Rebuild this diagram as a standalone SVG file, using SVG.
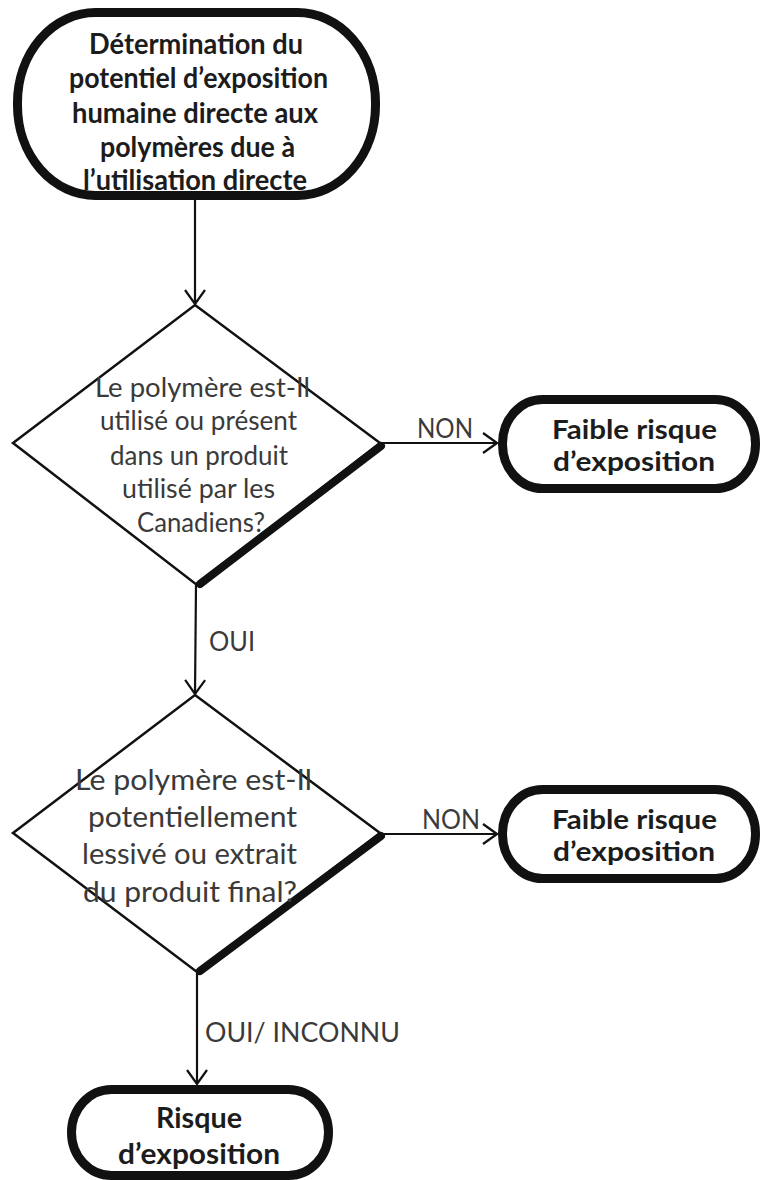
<svg xmlns="http://www.w3.org/2000/svg" width="761" height="1180" viewBox="0 0 761 1180">
  <style>
    .term { fill: #ffffff; stroke: #111111; stroke-width: 9; }
    .dec { fill: #ffffff; stroke: #111111; stroke-width: 2.5; stroke-linejoin: miter; }
    .shadow { fill: none; stroke: #111111; stroke-width: 8; stroke-linecap: round; }
    .conn { fill: none; stroke: #111111; stroke-width: 2.2; }
    .bold { font-family: Lato, "Open Sans", "Liberation Sans", sans-serif; font-weight: bold; fill: #1c1c1c; text-anchor: middle; }
    .reg { font-family: Lato, "Open Sans", "Liberation Sans", sans-serif; fill: #3a3a3a; text-anchor: middle; }
    .lbl { font-family: Lato, "Open Sans", "Liberation Sans", sans-serif; fill: #3a3a3a; font-size: 27px; }
  </style>
  <defs>
    <marker id="open-arrow" viewBox="0 0 16 22" refX="15" refY="11" markerWidth="16" markerHeight="22" markerUnits="userSpaceOnUse" orient="auto">
      <path d="M1,1 L15,11 L1,21" fill="none" stroke="#111111" stroke-width="2.2"/>
    </marker>
  </defs>

  <!-- connectors -->
  <g id="connectors">
    <line class="conn" x1="195" y1="200" x2="195" y2="304" marker-end="url(#open-arrow)"/>
    <line class="conn" x1="380" y1="443" x2="497" y2="443" marker-end="url(#open-arrow)"/>
    <line class="conn" x1="196" y1="585" x2="195" y2="694" marker-end="url(#open-arrow)"/>
    <line class="conn" x1="380" y1="834" x2="497" y2="834" marker-end="url(#open-arrow)"/>
    <line class="conn" x1="197" y1="972" x2="197" y2="1084" marker-end="url(#open-arrow)"/>
    <text class="lbl" x="417" y="438" textLength="56" lengthAdjust="spacingAndGlyphs">NON</text>
    <text class="lbl" x="209" y="651" textLength="46" lengthAdjust="spacingAndGlyphs">OUI</text>
    <text class="lbl" x="422" y="829" textLength="58" lengthAdjust="spacingAndGlyphs">NON</text>
    <text class="lbl" x="205" y="1042" textLength="195" lengthAdjust="spacingAndGlyphs">OUI/ INCONNU</text>
  </g>

  <!-- start: determination -->
  <g id="start">
    <rect class="term" x="17.5" y="12.5" width="358" height="183" rx="78" ry="90"/>
    <g class="bold" font-size="29">
      <text x="196" y="54" textLength="214" lengthAdjust="spacingAndGlyphs">Détermination du</text>
      <text x="198.5" y="88" textLength="259" lengthAdjust="spacingAndGlyphs">potentiel d’exposition</text>
      <text x="195" y="123" textLength="246" lengthAdjust="spacingAndGlyphs">humaine directe aux</text>
      <text x="197.5" y="157" textLength="195" lengthAdjust="spacingAndGlyphs">polymères due à</text>
      <text x="195" y="190" textLength="224" lengthAdjust="spacingAndGlyphs">l’utilisation directe</text>
    </g>
  </g>

  <!-- decision 1 -->
  <g id="decision-use">
    <polygon class="dec" points="195,305 380,443 197,585 13,443"/>
    <line class="shadow" x1="381" y1="446" x2="200" y2="584"/>
    <g class="reg" font-size="26">
      <text x="202.5" y="397" textLength="215" lengthAdjust="spacingAndGlyphs">Le polymère est-Il</text>
      <text x="198.5" y="430" textLength="197" lengthAdjust="spacingAndGlyphs">utilisé ou présent</text>
      <text x="199" y="465" textLength="178" lengthAdjust="spacingAndGlyphs">dans un produit</text>
      <text x="198.5" y="498" textLength="153" lengthAdjust="spacingAndGlyphs">utilisé par les</text>
      <text x="201" y="532" textLength="128" lengthAdjust="spacingAndGlyphs">Canadiens?</text>
    </g>
  </g>

  <!-- low risk 1 -->
  <g id="low-risk-1">
    <rect class="term" x="502.5" y="399.5" width="253" height="89" rx="40" ry="44"/>
    <g class="bold" font-size="26">
      <text x="634.5" y="439" textLength="165" lengthAdjust="spacingAndGlyphs">Faible risque</text>
      <text x="634" y="471" textLength="162" lengthAdjust="spacingAndGlyphs">d’exposition</text>
    </g>
  </g>

  <!-- decision 2 -->
  <g id="decision-leach">
    <polygon class="dec" points="195,695 380,833 197,972 13,833"/>
    <line class="shadow" x1="381" y1="836" x2="200" y2="971"/>
    <g class="reg" font-size="28">
      <text x="193.5" y="790" textLength="237" lengthAdjust="spacingAndGlyphs">Le polymère est-Il</text>
      <text x="192.5" y="827" textLength="209" lengthAdjust="spacingAndGlyphs">potentiellement</text>
      <text x="189.5" y="864" textLength="215" lengthAdjust="spacingAndGlyphs">lessivé ou extrait</text>
      <text x="190" y="902" textLength="214" lengthAdjust="spacingAndGlyphs">du produit final?</text>
    </g>
  </g>

  <!-- low risk 2 -->
  <g id="low-risk-2">
    <rect class="term" x="502.5" y="789.5" width="253" height="89" rx="40" ry="44"/>
    <g class="bold" font-size="26">
      <text x="634.5" y="829" textLength="165" lengthAdjust="spacingAndGlyphs">Faible risque</text>
      <text x="634" y="861" textLength="162" lengthAdjust="spacingAndGlyphs">d’exposition</text>
    </g>
  </g>

  <!-- exposure risk -->
  <g id="risk">
    <rect class="term" x="71.5" y="1089.5" width="257" height="86" rx="40" ry="43"/>
    <g class="bold" font-size="29">
      <text x="199" y="1128" textLength="86" lengthAdjust="spacingAndGlyphs">Risque</text>
      <text x="199" y="1164" textLength="162" lengthAdjust="spacingAndGlyphs">d’exposition</text>
    </g>
  </g>
</svg>
